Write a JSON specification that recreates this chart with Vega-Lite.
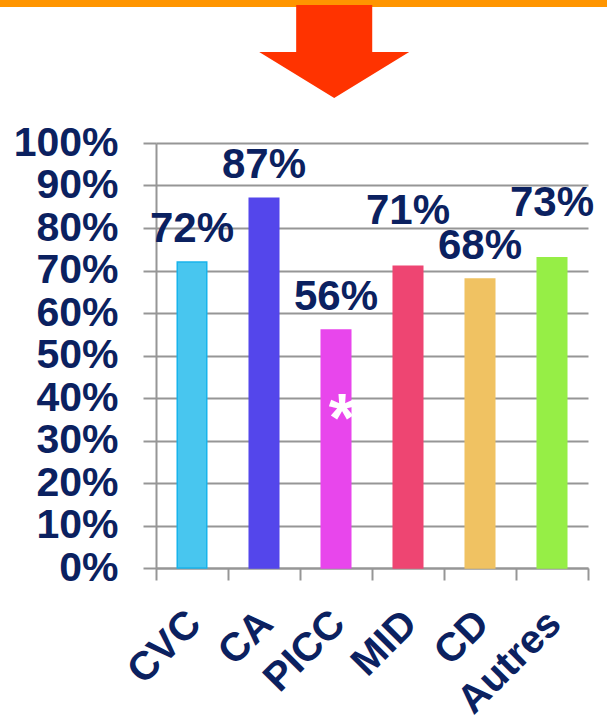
{
  "$schema": "https://vega.github.io/schema/vega-lite/v6.json",
  "width": 432,
  "height": 425,
  "autosize": {"type": "none"},
  "padding": {"left": 156, "top": 143, "right": 19, "bottom": 151},
  "background": "white",
  "config": {"view": {"stroke": null}, "font": "Liberation Sans"},
  "data": {
    "values": [
      {"cat": "CVC", "value": 0.72, "label": "72%", "note": ""},
      {"cat": "CA", "value": 0.87, "label": "87%", "note": ""},
      {"cat": "PICC", "value": 0.56, "label": "56%", "note": "*"},
      {"cat": "MID", "value": 0.71, "label": "71%", "note": ""},
      {"cat": "CD", "value": 0.68, "label": "68%", "note": ""},
      {"cat": "Autres", "value": 0.73, "label": "73%", "note": ""}
    ]
  },
  "layer": [
    {
      "layer": [
        {
          "mark": {"type": "bar", "width": {"band": 0.41}, "strokeWidth": 1.5},
          "encoding": {
            "x": {
              "field": "cat",
              "type": "nominal",
              "sort": null,
              "scale": {"paddingInner": 0, "paddingOuter": 0},
              "axis": {
                "title": null,
                "tickBand": "extent",
                "tickSize": 12,
                "tickWidth": 2,
                "tickColor": "#969696",
                "domainColor": "#969696",
                "domainWidth": 2,
                "labelAngle": -45,
                "labelAlign": "right",
                "labelBaseline": "top",
                "labelPadding": 23,
                "labelOffset": -12,
                "labelFontSize": 40,
                "labelFontWeight": "bold",
                "labelColor": "#0B2160",
                "labelFont": "Liberation Sans"
              }
            },
            "y": {
              "field": "value",
              "type": "quantitative",
              "scale": {"domain": [0, 1], "nice": false},
              "axis": {
                "title": null,
                "values": [0, 0.1, 0.2, 0.3, 0.4, 0.5, 0.6, 0.7, 0.8, 0.9, 1],
                "format": ".0%",
                "grid": true,
                "gridColor": "#969696",
                "gridWidth": 2,
                "tickSize": 13,
                "tickWidth": 2,
                "tickColor": "#969696",
                "domainColor": "#969696",
                "domainWidth": 2,
                "labelPadding": 25,
                "labelFontSize": 41,
                "labelFontWeight": "bold",
                "labelColor": "#0B2160",
                "labelFont": "Liberation Sans"
              }
            },
            "color": {
              "field": "cat",
              "type": "nominal",
              "legend": null,
              "scale": {
                "domain": ["CVC", "CA", "PICC", "MID", "CD", "Autres"],
                "range": ["#48C6EF", "#5446EB", "#E846EC", "#EE4572", "#F0C262", "#96EE46"]
              }
            },
            "stroke": {
              "field": "cat",
              "type": "nominal",
              "legend": null,
              "scale": {
                "domain": ["CVC", "CA", "PICC", "MID", "CD", "Autres"],
                "range": ["#18B4EC", "#5446EB", "#E846EC", "#EE4572", "#F0C262", "#96EE46"]
              }
            }
          }
        },
        {
          "transform": [{"filter": "datum.cat !== 'MID' && datum.cat !== 'Autres'"}],
          "mark": {"type": "text", "dy": -20, "baseline": "alphabetic", "align": "center", "fontSize": 42, "fontWeight": "bold", "color": "#0B2160", "font": "Liberation Sans"},
          "encoding": {
            "x": {"field": "cat", "type": "nominal", "sort": null},
            "y": {"field": "value", "type": "quantitative"},
            "text": {"field": "label"}
          }
        },
        {
          "transform": [{"filter": "datum.cat === 'MID' || datum.cat === 'Autres'"}],
          "mark": {"type": "text", "dy": -42, "baseline": "alphabetic", "align": "center", "fontSize": 42, "fontWeight": "bold", "color": "#0B2160", "font": "Liberation Sans"},
          "encoding": {
            "x": {"field": "cat", "type": "nominal", "sort": null},
            "y": {"field": "value", "type": "quantitative"},
            "text": {"field": "label"}
          }
        },
        {
          "transform": [{"filter": "datum.note !== ''"}],
          "mark": {"type": "text", "dx": 6, "baseline": "alphabetic", "align": "center", "fontSize": 68, "fontWeight": "bold", "color": "white", "font": "Liberation Sans"},
          "encoding": {
            "x": {"field": "cat", "type": "nominal", "sort": null},
            "y": {"datum": 0.3, "type": "quantitative"},
            "text": {"field": "note"}
          }
        }
      ]
    },
    {
      "layer": [
        {
          "data": {"values": [{"part": "band"}]},
          "mark": {"type": "rect", "color": "#FF9500"},
          "encoding": {
            "x": {"datum": -0.37, "type": "quantitative", "scale": {"domain": [0, 1], "nice": false, "zero": false}, "axis": null},
            "x2": {"datum": 1.05},
            "y": {"datum": 1.337, "type": "quantitative"},
            "y2": {"datum": 1.32}
          }
        },
        {
          "data": {"values": [{"part": "arrow"}]},
          "mark": {
            "type": "point",
            "filled": true,
            "opacity": 1,
            "color": "#FF3300",
            "size": 22500,
            "shape": "M-0.507,-0.62L0.507,-0.62L0.507,0.007L1,0.007L0,0.62L-1,0.007L-0.507,0.007Z"
          },
          "encoding": {
            "x": {"datum": 0.4125, "type": "quantitative"},
            "y": {"datum": 1.2153, "type": "quantitative"}
          }
        }
      ]
    }
  ],
  "resolve": {"scale": {"x": "independent"}}
}
